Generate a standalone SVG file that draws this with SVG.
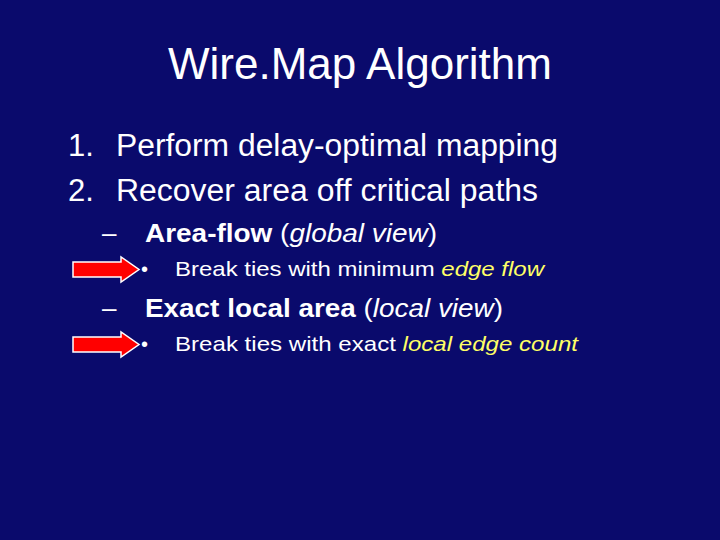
<svg xmlns="http://www.w3.org/2000/svg" width="720" height="540" viewBox="0 0 720 540">
<style>
text{font-family:"Liberation Sans",Arial,sans-serif;fill:#fff}
.y{fill:#ffff66}
.arr{fill:#ff0000;stroke:#ffffff;stroke-width:1.5}
</style>
<rect width="720" height="540" fill="#0a0a6c"/>
<text x="360" y="79" font-size="44" text-anchor="middle">Wire.Map Algorithm</text>
<text x="68" y="156" font-size="31">1.</text>
<text x="116" y="156" font-size="31" textLength="442" lengthAdjust="spacingAndGlyphs">Perform delay-optimal mapping</text>
<text x="68" y="201" font-size="31">2.</text>
<text x="116" y="201" font-size="31" textLength="422" lengthAdjust="spacingAndGlyphs">Recover area off critical paths</text>
<text x="102" y="242" font-size="26">–</text>
<text x="145" y="242" font-size="26" textLength="292" lengthAdjust="spacingAndGlyphs"><tspan font-weight="bold">Area-flow</tspan> (<tspan font-style="italic">global view</tspan>)</text>
<text x="141" y="276" font-size="20">•</text>
<text x="175" y="276" font-size="21" textLength="369" lengthAdjust="spacingAndGlyphs">Break ties with minimum <tspan class="y" font-style="italic">edge flow</tspan></text>
<text x="102" y="317" font-size="26">–</text>
<text x="145" y="317" font-size="26" textLength="358" lengthAdjust="spacingAndGlyphs"><tspan font-weight="bold">Exact local area</tspan> (<tspan font-style="italic">local view</tspan>)</text>
<text x="141" y="351" font-size="20">•</text>
<text x="175" y="351" font-size="21" textLength="403" lengthAdjust="spacingAndGlyphs">Break ties with exact <tspan class="y" font-style="italic">local edge count</tspan></text>
<g id="arrows">
<path class="arr" d="M73,262 H121 V257 L139,269.5 L121,282 V277 H73 Z"/>
<path class="arr" d="M73,337 H121 V332 L139,344.5 L121,357 V352 H73 Z"/>
</g>
</svg>
